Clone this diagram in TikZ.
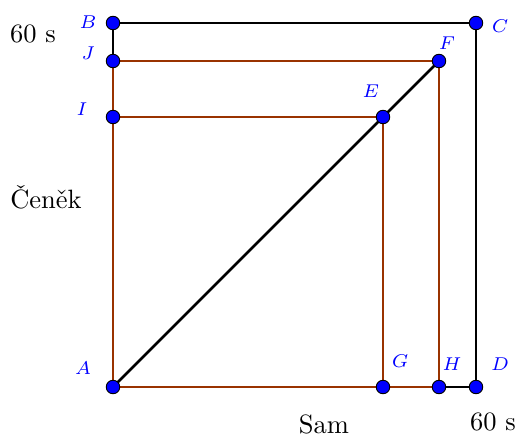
\documentclass[tikz,border=0pt]{standalone}
\definecolor{brn}{RGB}{153,51,0}
\begin{document}
\begin{tikzpicture}[x=0.3774pt,y=-0.3774pt,
  seg/.style={line width=1.0pt},
  blk/.style={seg,black},
  brw/.style={seg,brn},
  pt/.style={circle,fill=blue,draw=black,line width=0.35pt,inner sep=0pt,minimum size=5.1pt},
  lbl/.style={text=blue,font=\scriptsize,inner sep=0pt},
  txt/.style={inner sep=0pt}]
\useasboundingbox (0,0) rectangle (518,436);
\coordinate (A) at (113,387);
\coordinate (B) at (113,23);
\coordinate (C) at (476,23);
\coordinate (D) at (476,387);
\coordinate (J) at (113,61);
\coordinate (F) at (439,61);
\coordinate (I) at (113,117);
\coordinate (E) at (383,117);
\coordinate (G) at (383,387);
\coordinate (H) at (439,387);
% lines
\draw[blk] (B) -- (C) -- (D) -- (H);
\draw[blk] (B) -- (J);
\draw[brw] (J) -- (A) -- (G) -- (H) -- (F) -- (J);
\draw[brw] (I) -- (E) -- (G);
\draw[blk] (A) -- (F);
% points
\foreach \p in {A,B,C,D,E,F,G,H,I,J} \node[pt] (p\p) at (\p) {};
% labels
\node[lbl] (lA) at (83,368) {$A$};
\node[lbl] (lB) at (88,22) {$B$};
\node[lbl] (lC) at (500,26) {$C$};
\node[lbl] (lD) at (500,364) {$D$};
\node[lbl] (lE) at (371,91) {$E$};
\node[lbl] (lF) at (447,43) {$F$};
\node[lbl] (lG) at (400,361) {$G$};
\node[lbl] (lH) at (452,364) {$H$};
\node[lbl] (lI) at (82,109) {$I$};
\node[lbl] (lJ) at (88,53) {$J$};
% texts
\node[txt] (t60a) at (33,34) {60 s};
\node[txt] (tcen) at (46,197) {Čeněk};
\node[txt] (tsam) at (324,424) {Sam};
\node[txt] (t60b) at (493,422) {60 s};
\end{tikzpicture}
\end{document}
